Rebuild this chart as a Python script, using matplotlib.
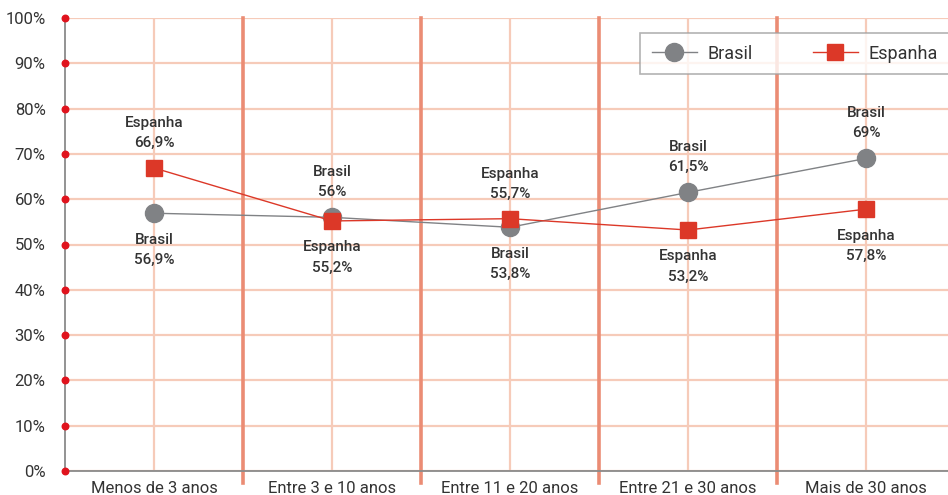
import matplotlib
matplotlib.use("Agg")
import matplotlib.pyplot as plt
from matplotlib.lines import Line2D

plt.rcParams['font.family'] = ['Roboto', 'DejaVu Sans']

categories = ["Menos de 3 anos", "Entre 3 e 10 anos", "Entre 11 e 20 anos",
              "Entre 21 e 30 anos", "Mais de 30 anos"]
brasil = [56.9, 56.0, 53.8, 61.5, 69.0]
espanha = [66.9, 55.2, 55.7, 53.2, 57.8]
brasil_labels = ["56,9%", "56%", "53,8%", "61,5%", "69%"]
espanha_labels = ["66,9%", "55,2%", "55,7%", "53,2%", "57,8%"]
# which series gets its label above the marker at each category
brasil_above = [False, True, False, True, True]
y_ticks = list(range(0, 101, 10))

GRID = "#F6CBB9"
SEP = "#EB8C74"
GRAY = "#808285"
RED = "#DC3828"
TEXT = "#333333"

fig = plt.figure(figsize=(9.48, 4.95), dpi=100)
ax = fig.add_axes([65 / 948, 24 / 495, 890 / 948, 453 / 495])

x = list(range(len(categories)))
ax.set_xlim(-0.5, len(categories) - 0.5)
ax.set_ylim(0, 100)

# light grid
for yv in y_ticks:
    ax.axhline(yv, color=GRID, lw=1.6, zorder=0)
for xv in x:
    ax.axvline(xv, color=GRID, lw=1.6, zorder=0)
# category separators, extending below the axis
for xv in x[:-1]:
    ax.axvline(xv + 0.5, ymin=-0.027, ymax=1, color=SEP, lw=2.6, zorder=1, clip_on=False)

ax.plot(x, brasil, color=GRAY, lw=1.0, marker="o", ms=13, mfc=GRAY, mec=GRAY, zorder=3)
ax.plot(x, espanha, color=RED, lw=1.0, marker="s", ms=12, mfc=RED, mec=RED, zorder=4)

for i in x:
    b_off = 13 if brasil_above[i] else -14
    e_off = -14 if brasil_above[i] else 13
    ax.annotate("Brasil\n" + brasil_labels[i], (i, brasil[i]), xytext=(0, b_off),
                textcoords="offset points", ha="center",
                va="bottom" if brasil_above[i] else "top",
                fontsize=11, fontweight="medium", color=TEXT, linespacing=1.55, zorder=5)
    ax.annotate("Espanha\n" + espanha_labels[i], (i, espanha[i]), xytext=(0, e_off),
                textcoords="offset points", ha="center",
                va="top" if brasil_above[i] else "bottom",
                fontsize=11, fontweight="medium", color=TEXT, linespacing=1.55, zorder=5)

for s in ["top", "right"]:
    ax.spines[s].set_visible(False)
for s in ["left", "bottom"]:
    ax.spines[s].set_color("#8A8A8A")
    ax.spines[s].set_linewidth(1.3)
    ax.spines[s].set_zorder(2)

ax.set_yticks(y_ticks)
ax.set_yticklabels([f"{v}%" for v in y_ticks])
ax.set_xticks(x)
ax.set_xticklabels(categories)
ax.tick_params(axis="both", length=0, labelsize=12, colors=TEXT)
ax.tick_params(axis="y", pad=14)
ax.tick_params(axis="x", pad=7)

# red dots on the value axis
ax.scatter([-0.5] * len(y_ticks), y_ticks, s=22, color="#E0131D", zorder=6, clip_on=False)

handles = [
    Line2D([0], [0], color=GRAY, lw=1.0, marker="o", ms=13, mfc=GRAY, mec=GRAY),
    Line2D([0], [0], color=RED, lw=1.0, marker="s", ms=12, mfc=RED, mec=RED),
]
leg = fig.legend(handles, ["Brasil", "Espanha"], ncol=2, loc="upper left",
                 bbox_to_anchor=(640 / 948, 1 - 33 / 495), bbox_transform=fig.transFigure,
                 frameon=True, fancybox=False, fontsize=13, borderaxespad=0,
                 handlelength=2.5, columnspacing=3.3, borderpad=0.65, handletextpad=0.6)
leg.get_frame().set_edgecolor("#A0A0A0")
leg.get_frame().set_linewidth(1.2)
for t in leg.get_texts():
    t.set_color(TEXT)

fig.savefig("out.png", dpi=100)
